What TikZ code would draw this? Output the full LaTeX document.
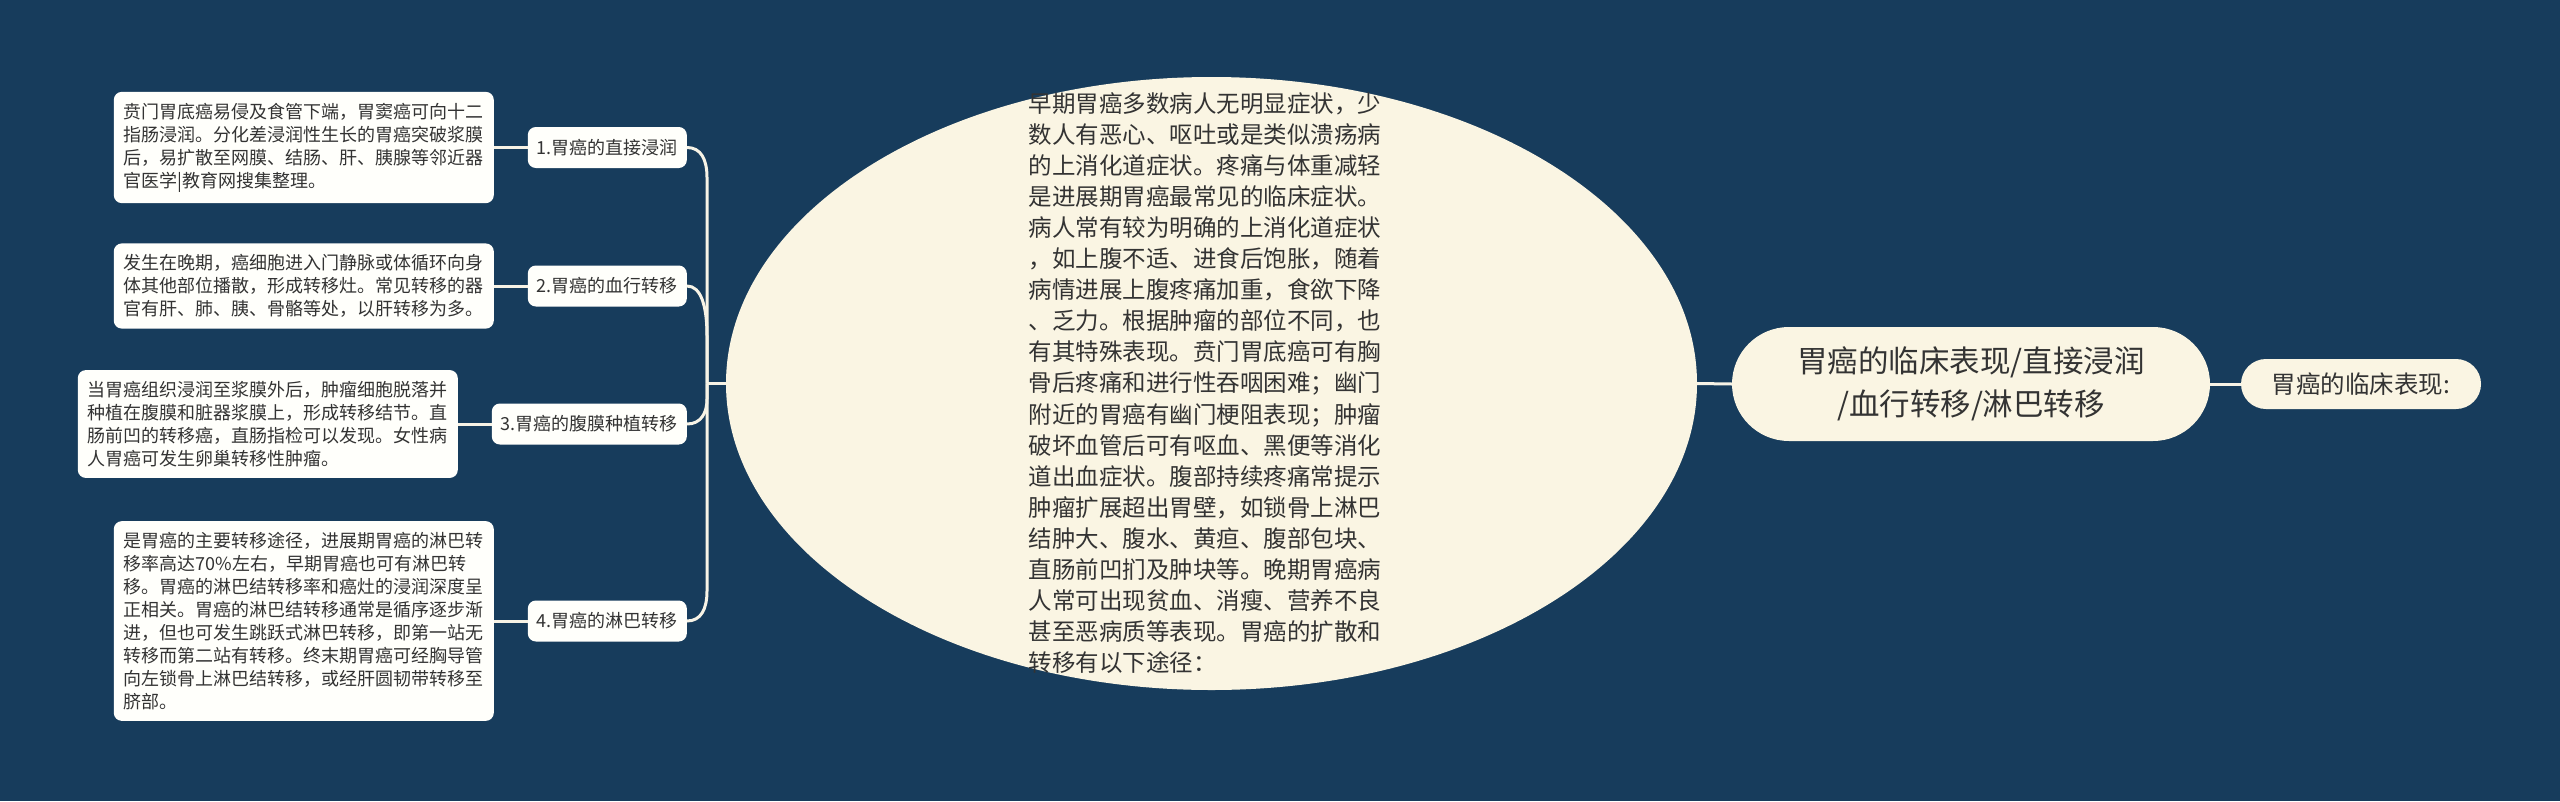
\documentclass[tikz,border=0pt]{standalone}
\usepackage{fontspec}
\newfontfamily\cjkf{Noto Sans CJK SC}
\usetikzlibrary{shapes.geometric,calc}
\definecolor{bg}{HTML}{173C5C}
\definecolor{cream}{HTML}{FAF5E3}
\definecolor{boxw}{HTML}{FFFFFB}
\definecolor{txt}{HTML}{333333}
\definecolor{lnc}{HTML}{F7F3E6}
\begin{document}
\begin{tikzpicture}[x=1pt,y=-1pt,
  leafbox/.style={fill=boxw, rounded corners=8pt, align=left, inner xsep=10pt, inner ysep=11pt, text=txt, font=\cjkf\fontsize{18pt}{23pt}\selectfont, anchor=east},
  lab/.style={fill=boxw, rounded corners=8pt, inner xsep=9pt, inner ysep=0pt, minimum height=41pt, text=txt, font=\cjkf\fontsize{18pt}{23pt}\selectfont, anchor=east},
  bigell/.style={ellipse, fill=cream, inner sep=0pt, minimum width=971pt, minimum height=613pt},
  elltext/.style={align=left, text=txt, inner sep=0pt, font=\cjkf\fontsize{23.5pt}{31.1pt}\selectfont},
  central/.style={fill=cream, rounded corners=57pt, minimum width=478pt, minimum height=114pt, inner sep=0pt, align=center, text=txt, font=\cjkf\fontsize{30.5pt}{43pt}\selectfont},
  rightnode/.style={fill=cream, rounded corners=25pt, minimum width=240pt, minimum height=50pt, inner sep=0pt, text=txt, font=\cjkf\fontsize{24.5pt}{28pt}\selectfont},
  conn/.style={draw=lnc, line width=3pt}]
\useasboundingbox (0,0) rectangle (2560,801);
\fill[bg] (0,0) rectangle (2560,801);

% left text boxes
\node[leafbox] (b1) at (494,147.5) {贲门胃底癌易侵及食管下端，胃窦癌可向十二\\指肠浸润。分化差浸润性生长的胃癌突破浆膜\\后，易扩散至网膜、结肠、肝、胰腺等邻近器\\官医学|教育网搜集整理。};
\node[leafbox] (b2) at (494,286) {发生在晚期，癌细胞进入门静脉或体循环向身\\体其他部位播散，形成转移灶。常见转移的器\\官有肝、肺、胰、骨骼等处，以肝转移为多。};
\node[leafbox] (b3) at (458,424) {当胃癌组织浸润至浆膜外后，肿瘤细胞脱落并\\种植在腹膜和脏器浆膜上，形成转移结节。直\\肠前凹的转移癌，直肠指检可以发现。女性病\\人胃癌可发生卵巢转移性肿瘤。};
\node[leafbox] (b4) at (494,621) {是胃癌的主要转移途径，进展期胃癌的淋巴转\\移率高达70\%左右，早期胃癌也可有淋巴转\\移。胃癌的淋巴结转移率和癌灶的浸润深度呈\\正相关。胃癌的淋巴结转移通常是循序逐步渐\\进，但也可发生跳跃式淋巴转移，即第一站无\\转移而第二站有转移。终末期胃癌可经胸导管\\向左锁骨上淋巴结转移，或经肝圆韧带转移至\\脐部。};

% labels
\node[lab] (l1) at (687,147.5) {1.胃癌的直接浸润};
\node[lab] (l2) at (687,286) {2.胃癌的血行转移};
\node[lab] (l3) at (687,424) {3.胃癌的腹膜种植转移};
\node[lab] (l4) at (687,621) {4.胃癌的淋巴转移};

% ellipse
\node[bigell] (ell) at (1211.5,383.5) {};
\node[elltext] (etx) at (1205,383) {早期胃癌多数病人无明显症状，少\\数人有恶心、呕吐或是类似溃疡病\\的上消化道症状。疼痛与体重减轻\\是进展期胃癌最常见的临床症状。\\病人常有较为明确的上消化道症状\\，如上腹不适、进食后饱胀，随着\\病情进展上腹疼痛加重，食欲下降\\、乏力。根据肿瘤的部位不同，也\\有其特殊表现。贲门胃底癌可有胸\\骨后疼痛和进行性吞咽困难；幽门\\附近的胃癌有幽门梗阻表现；肿瘤\\破坏血管后可有呕血、黑便等消化\\道出血症状。腹部持续疼痛常提示\\肿瘤扩展超出胃壁，如锁骨上淋巴\\结肿大、腹水、黄疸、腹部包块、\\直肠前凹扪及肿块等。晚期胃癌病\\人常可出现贫血、消瘦、营养不良\\甚至恶病质等表现。胃癌的扩散和\\转移有以下途径：};

% central and right
\node[central] (ctr) at (1971,384) {胃癌的临床表现/直接浸润\\/血行转移/淋巴转移};
\node[rightnode] (rt) at (2361,384) {胃癌的临床表现:};

\coordinate (jn) at (707,383.5);

% connectors
\draw[conn] (l1.west) -- (b1.east);
\draw[conn] (l2.west) -- (b2.east);
\draw[conn] (l3.west) -- (b3.east);
\draw[conn] (l4.west) -- (b4.east);
\draw[conn] (l1.east) .. controls +(14,0) and +(0,-18) .. ($(jn|-l1.east)+(0,30)$) -- (jn);
\draw[conn] (l2.east) .. controls +(14,0) and +(0,-30) .. ($(jn|-l2.east)+(0,50)$) -- (jn);
\draw[conn] (l3.east) .. controls +(14,0) and +(0,14) .. ($(jn|-l3.east)+(0,-25)$) -- (jn);
\draw[conn] (l4.east) .. controls +(14,0) and +(0,18) .. ($(jn|-l4.east)+(0,-30)$) -- (jn);
\draw[conn] (jn) -- (ell.west);
\draw[conn] (ell.east) -- (ctr.west);
\draw[conn] (ctr.east) -- (rt.west);
\end{tikzpicture}
\end{document}
